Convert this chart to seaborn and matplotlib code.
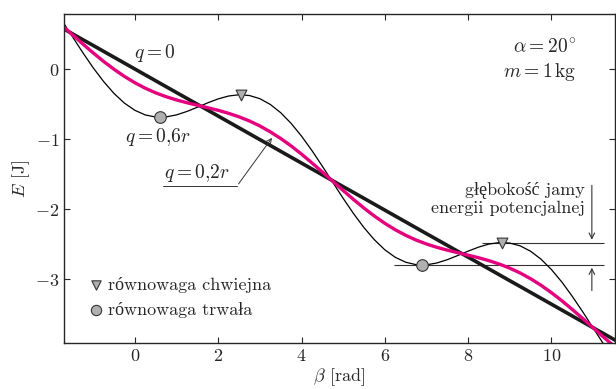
import numpy as np
import pandas as pd
import matplotlib
matplotlib.use("Agg")
import matplotlib.pyplot as plt
import seaborn as sns

# beta grid [rad] and energies [J]
beta = [-1.75, -1.5, -1.25, -1.0, -0.75, -0.5, -0.25, 0.0, 0.25, 0.5, 0.75,
        1.0, 1.25, 1.5, 1.75, 2.0, 2.25, 2.5, 2.75, 3.0, 3.25, 3.5, 3.75,
        4.0, 4.25, 4.5, 4.75, 5.0, 5.25, 5.5, 5.75, 6.0, 6.25, 6.5, 6.75,
        7.0, 7.25, 7.5, 7.75, 8.0, 8.25, 8.5, 8.75, 9.0, 9.25, 9.5, 9.75,
        10.0, 10.25, 10.5, 10.75, 11.0, 11.25, 11.5, 11.75]
E_q0 = [0.587, 0.503, 0.419, 0.336, 0.252, 0.168, 0.084, 0.0, -0.084, -0.168,
        -0.252, -0.336, -0.419, -0.503, -0.587, -0.671, -0.755, -0.839,
        -0.923, -1.007, -1.090, -1.174, -1.258, -1.342, -1.426, -1.510,
        -1.594, -1.678, -1.761, -1.845, -1.929, -2.013, -2.097, -2.181,
        -2.265, -2.349, -2.432, -2.516, -2.600, -2.684, -2.768, -2.852,
        -2.936, -3.020, -3.103, -3.187, -3.271, -3.355, -3.439, -3.523,
        -3.607, -3.691, -3.774, -3.858, -3.942]
E_q02 = [0.622, 0.489, 0.358, 0.230, 0.108, -0.004, -0.106, -0.196, -0.274,
         -0.340, -0.395, -0.441, -0.481, -0.517, -0.552, -0.589, -0.632,
         -0.682, -0.741, -0.812, -0.896, -0.991, -1.097, -1.214, -1.339,
         -1.469, -1.601, -1.733, -1.862, -1.984, -2.098, -2.201, -2.293,
         -2.372, -2.440, -2.496, -2.544, -2.584, -2.620, -2.656, -2.692,
         -2.734, -2.783, -2.841, -2.910, -2.992, -3.085, -3.191, -3.306,
         -3.430, -3.559, -3.691, -3.824, -3.953, -4.076]
E_q06 = [0.692, 0.462, 0.234, 0.017, -0.179, -0.349, -0.487, -0.589, -0.655,
         -0.685, -0.683, -0.654, -0.605, -0.545, -0.482, -0.426, -0.385,
         -0.367, -0.378, -0.423, -0.505, -0.623, -0.775, -0.957, -1.163,
         -1.386, -1.616, -1.845, -2.063, -2.263, -2.436, -2.579, -2.686,
         -2.756, -2.791, -2.793, -2.767, -2.720, -2.661, -2.598, -2.541,
         -2.497, -2.476, -2.483, -2.523, -2.600, -2.713, -2.861, -3.039,
         -3.243, -3.463, -3.693, -3.923, -4.143, -4.345]

# equilibrium points of q = 0,6r
unstable_beta = [2.54, 8.82]
unstable_E = [-0.367, -2.475]
stable_beta = [0.61, 6.89]
stable_E = [-0.688, -2.795]

sns.set_style("ticks")
plt.rcParams["font.family"] = ["cmr10", "Liberation Serif"]
plt.rcParams["mathtext.fontset"] = "cm"
plt.rcParams["axes.formatter.use_mathtext"] = True
plt.rcParams["axes.unicode_minus"] = True

df = pd.DataFrame({"beta": beta, "q0": E_q0, "q02": E_q02, "q06": E_q06})

fig = plt.figure(figsize=(6.16, 3.89), dpi=100)
ax = fig.add_axes([0.104, 0.118, 0.894, 0.846])

sns.lineplot(data=df, x="beta", y="q06", ax=ax, color="black", lw=0.9)
sns.lineplot(data=df, x="beta", y="q0", ax=ax, color="#1a1a1a", lw=2.6)
sns.lineplot(data=df, x="beta", y="q02", ax=ax, color="#e5007d", lw=2.4)

# depth of the potential well
ax.hlines(unstable_E[1], 8.34, 11.25, color="#333333", lw=0.8, zorder=1)
ax.hlines(stable_E[1], 6.22, 11.25, color="#333333", lw=0.8, zorder=1)
ax.annotate("", xy=(10.97, unstable_E[1]), xytext=(10.97, -1.62),
            arrowprops=dict(arrowstyle="->", color="#333333", lw=0.8))
ax.annotate("", xy=(10.97, stable_E[1]), xytext=(10.97, -3.2),
            arrowprops=dict(arrowstyle="->", color="#333333", lw=0.8))

sns.scatterplot(x=unstable_beta, y=unstable_E, ax=ax, marker="v", s=60,
                color="#b0b0b0", edgecolor="#333333", linewidth=0.8, zorder=5)
sns.scatterplot(x=stable_beta, y=stable_E, ax=ax, marker="o", s=70,
                color="#b0b0b0", edgecolor="#333333", linewidth=0.8, zorder=5)

# legend drawn by hand as in the original
ax.scatter([-0.94], [-3.08], marker="v", s=45, color="#b0b0b0",
           edgecolor="#333333", linewidth=0.8, zorder=5)
ax.scatter([-0.94], [-3.44], marker="o", s=55, color="#b0b0b0",
           edgecolor="#333333", linewidth=0.8, zorder=5)
ax.text(-0.64, -3.08, "równowaga chwiejna", fontsize=13, va="center")
ax.text(-0.64, -3.44, "równowaga trwała", fontsize=13, va="center")

ax.text(0.47, 0.23, r"$q=0$", fontsize=14, ha="center", va="center")
ax.text(0.56, -0.97, r"$q=0{,}6r$", fontsize=14, ha="center", va="center")
ax.text(1.5, -1.49, r"$q=0{,}2r$", fontsize=14, ha="center", va="center")
ax.annotate("", xy=(3.33, -0.95), xytext=(2.45, -1.67),
            arrowprops=dict(arrowstyle="->", color="#333333", lw=0.7))
ax.plot([0.68, 2.45], [-1.67, -1.67], color="#333333", lw=0.7)

ax.text(10.6, 0.31, r"$\alpha=20^{\!\circ}$", fontsize=14, ha="right", va="center")
ax.text(10.6, -0.04, r"$m=1\,\mathrm{kg}$", fontsize=14, ha="right", va="center")
ax.text(10.8, -1.73, "głębokość jamy", fontsize=13, ha="right", va="center")
ax.text(10.8, -1.99, "energii potencjalnej", fontsize=13, ha="right", va="center")

ax.set_xlim(-1.7, 11.52)
ax.set_ylim(-3.91, 0.785)
ax.set_xticks([0, 2, 4, 6, 8, 10])
ax.set_yticks([0, -1, -2, -3])
ax.tick_params(direction="in", top=True, right=True, labelsize=13, length=4)
ax.set_xlabel(r"$\beta$ [rad]", fontsize=13, labelpad=2)
ax.set_ylabel(r"$E$ [J]", fontsize=13, labelpad=2)
for s in ax.spines.values():
    s.set_linewidth(1.0)

fig.savefig("out.png", dpi=100)
